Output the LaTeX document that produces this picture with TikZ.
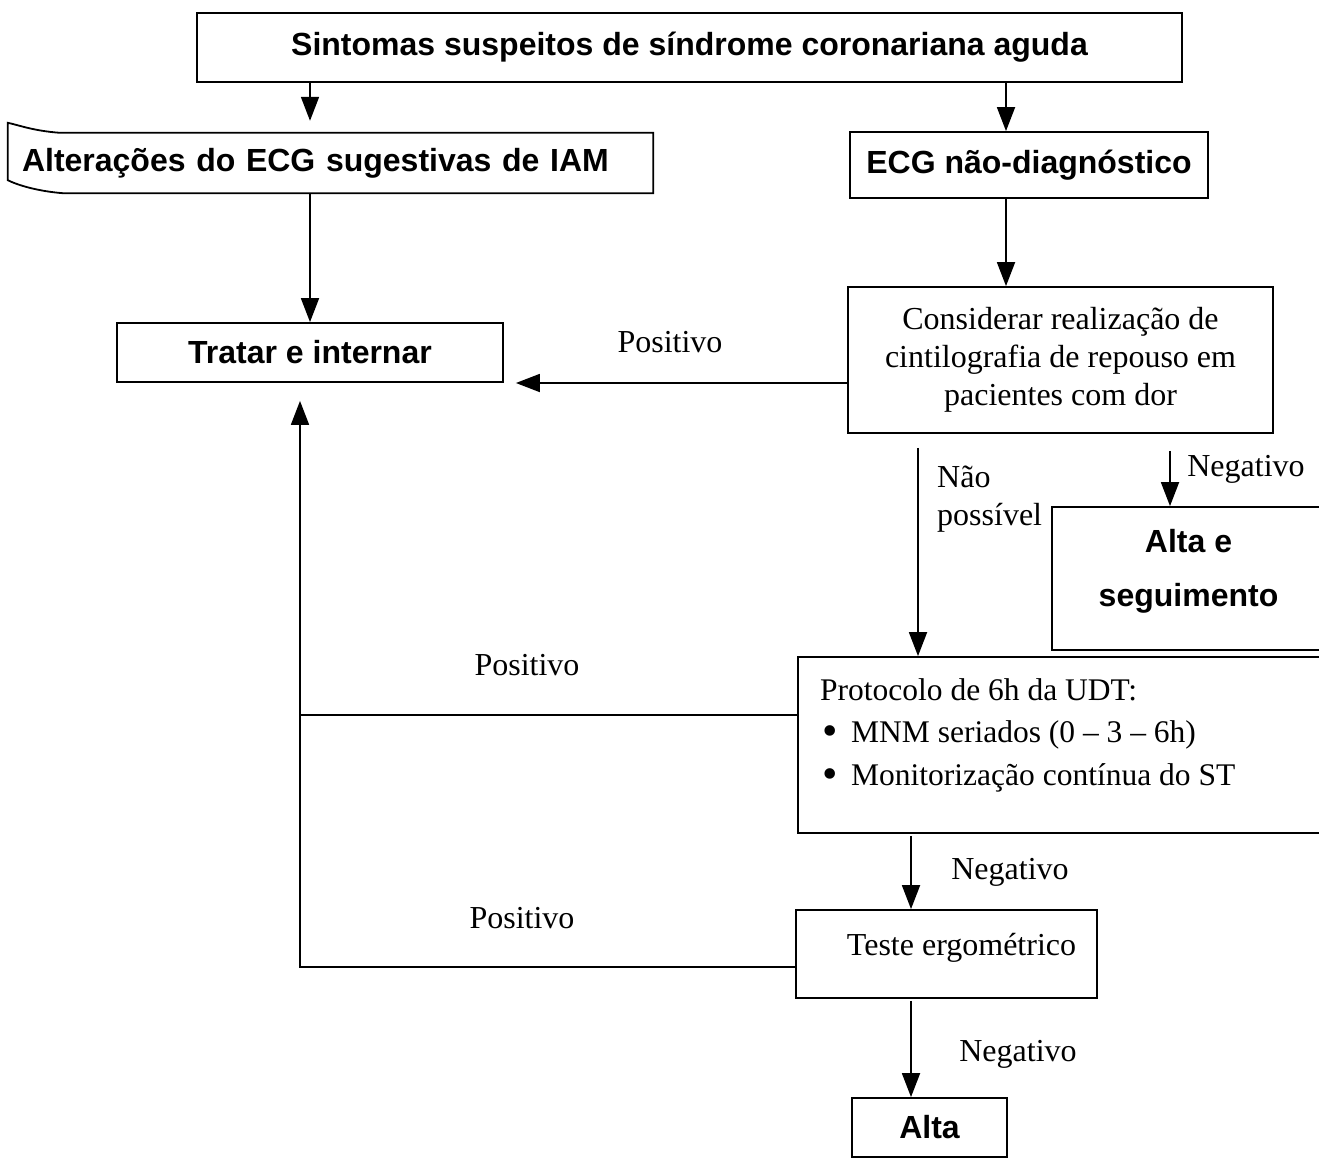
\documentclass[tikz,border=0pt]{standalone}
\usepackage{fontspec}
\setmainfont{Liberation Serif}
\setsansfont{Liberation Sans}
\usetikzlibrary{arrows.meta,calc}
\newcommand{\bigdot}{\makebox[29pt][l]{\fontsize{44}{44}\selectfont\raisebox{-3pt}{•}}}
\begin{document}
\begin{tikzpicture}[x=1pt,y=-1pt,
  every node/.style={inner sep=0pt},
  box/.style={draw, line width=1.8pt},
  bf/.style={font=\fontsize{32}{40}\selectfont\sffamily\bfseries},
  rm/.style={font=\fontsize{32}{38}\selectfont},
  ln/.style={line width=1.8pt},
  arr/.style={line width=1.8pt, -{Triangle[length=24pt,width=18pt]}}]
\useasboundingbox (0,0) rectangle (1319,1159);
\begin{scope}
\clip (0,0) rectangle (1319,1159);

% boxes
\node[box,bf,minimum width=985pt,minimum height=69pt] (top) at (689.5,47.5)
  {Sintomas suspeitos de síndrome coronariana aguda};
\node[bf,minimum width=645pt,minimum height=60pt,text width=617pt,align=left] (alt) at (330.5,163)
  {Alterações do ECG sugestivas de IAM};
\draw[ln] (alt.north east) -- ($(alt.north west)+(52,0)$)
  .. controls ($(alt.north west)+(25,-2)$) and ($(alt.north west)+(10,-8)$) .. ($(alt.north west)+(0,-10)$)
  -- ($(alt.south west)+(0,-13)$)
  .. controls ($(alt.south west)+(10,-8)$) and ($(alt.south west)+(30,-2)$) .. ($(alt.south west)+(55,0)$)
  -- (alt.south east) -- cycle;
\node[box,bf,minimum width=358pt,minimum height=66pt] (ecg) at (1029,165) {ECG não-diagnóstico};
\node[box,rm,minimum width=425pt,minimum height=146pt,align=center] (cons) at (1060.5,360)
  {Considerar realização de\\cintilografia de repouso em\\pacientes com dor};
\node[box,bf,minimum width=386pt,minimum height=59pt] (tr) at (310,352.5) {Tratar e internar};
\node[box,minimum width=273pt,minimum height=143pt] (aseg) at (1188.5,578.5) {};
\node[bf] (aseg1) at (1188.5,541) {Alta e};
\node[bf] (aseg2) at (1188.5,598) {seguimento};
\node[box,minimum width=547pt,minimum height=176pt] (prot) at (1071.5,745) {};
\node[anchor=north west,align=left,font=\fontsize{31.5}{42.5}\selectfont] (protxt) at (820,678)
  {Protocolo de 6h da UDT:\\
   \hspace*{2pt}\bigdot MNM seriados (0 – 3 – 6h)\\
   \hspace*{2pt}\bigdot Monitorização contínua do ST};
\node[box,rm,minimum width=301pt,minimum height=88pt,text depth=19pt] (teste) at (946.5,954)
  {\hspace*{30pt}Teste ergométrico};
\node[box,bf,minimum width=155pt,minimum height=59pt] (alta) at (929.5,1127.5) {Alta};

% connector columns
\coordinate (cx) at (1006,0);
\coordinate (px) at (918,0);
\coordinate (nx) at (1170,0);
\coordinate (bx) at (911,0);
\coordinate (lx) at (300,0);

% connectors
\draw[arr,shorten >=12pt] (top.south -| tr.north) -- (alt.north -| tr.north);
\draw[arr] (top.south -| cx) -- (ecg.north -| cx);
\draw[arr] (alt.south -| tr.north) -- (tr.north);
\draw[arr] (ecg.south -| cx) -- (cons.north -| cx);
\draw[arr,shorten >=12pt] ($(cons.west)+(0,23)$) -- ($(tr.east)+(0,30.5)$);
\draw[arr,shorten <=14pt] (cons.south -| px) -- (prot.north -| px);
\draw[arr,shorten <=17pt] (cons.south -| nx) -- (aseg.north -| nx);
\draw[arr,shorten <=2pt] (prot.south -| bx) -- (teste.north -| bx);
\draw[arr,shorten <=2pt] (teste.south -| bx) -- (alta.north -| bx);
\draw[arr,shorten >=18pt] ($(teste.west)+(0,13)$) -| (lx |- tr.south);
\draw[ln] ($(prot.west)+(0,-30)$) -- (lx |- {$(prot.west)+(0,-30)$});

% labels
\node[rm] (lp1) at (670,342) {Positivo};
\node[rm,anchor=west,align=left] (lnp) at (937,499) {Não\\possível};
\node[rm] (ln1) at (1246,469) {Negativo};
\node[rm] (lp2) at (527,665) {Positivo};
\node[rm] (ln2) at (1010,872) {Negativo};
\node[rm] (lp3) at (522,918) {Positivo};
\node[rm] (ln3) at (1018,1054) {Negativo};
\end{scope}
\end{tikzpicture}
\end{document}
